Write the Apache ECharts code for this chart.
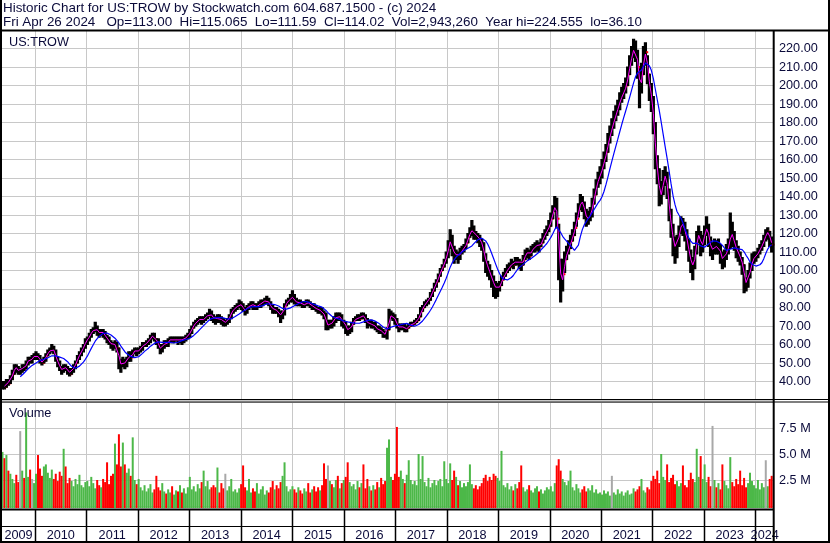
<!DOCTYPE html>
<html><head><meta charset="utf-8">
<script src="https://cdn.jsdelivr.net/npm/echarts@6/dist/echarts.min.js"></script>
<style>html,body{margin:0;padding:0;background:#fff}#c{width:830px;height:543px}</style>
</head><body><div id="c"></div>
<script>
// ---- data (bi-weekly bars), last bar 2024-04-26 ----
const lastDate = [2024, 3, 26];
const stepDays = 14;
const close = [
 38,37,40,39,42,44,48,47,45,46,48,47,50,52,51,53,54,
 54,53,51,50,52,54,56,57,58,56,52,50,47,46,48,47,46,44,46,48,50,53,55,57,59,62,
 63,65,67,68,69,67,66,67,66,64,63,61,60,59,61,58,50,49,51,49,52,54,53,56,57,56,
 57,58,60,60,61,62,64,65,63,62,59,57,59,61,60,62,63,62,63,63,62,63,62,63,64,65,
 67,69,71,72,73,74,73,74,75,76,77,75,74,73,75,74,73,72,72,73,75,78,79,80,81,82,
 81,79,78,80,81,82,81,80,81,82,82,83,84,84,82,80,79,79,78,77,75,77,81,83,84,85,
 86,84,82,83,82,81,82,83,82,81,81,80,79,78,79,77,76,71,70,72,71,73,76,75,75,72,
 72,69,67,68,71,73,74,75,74,76,75,73,71,72,70,71,69,68,68,67,66,65,68,75,76,75,
 73,70,69,69,70,68,69,70,71,71,72,73,75,78,80,82,83,84,87,89,92,94,97,100,102,105,
 108,113,118,112,108,109,107,110,111,112,115,118,121,122,120,119,118,116,114,108,104,101,98,95,92,90,
 90,92,95,97,99,101,102,104,103,106,105,104,103,106,109,110,108,111,112,113,114,113,115,118,120,122,
 124,128,132,136,128,105,92,98,106,110,112,116,119,123,128,133,138,136,132,127,129,130,136,141,146,150,
 152,156,160,164,170,174,178,182,185,189,192,195,197,200,206,212,217,221,218,210,197,206,216,218,206,198,
 192,178,160,152,140,142,150,152,142,130,122,114,112,115,121,126,124,120,115,108,104,102,110,118,120,112,
 116,121,124,116,112,111,114,112,113,108,105,107,111,113,121,118,114,111,109,106,103,95,92,97,101,106,
 107,108,110,112,114,117,120,121,116,114.02
];
const high = [
 40,40,41,41,43,46,49,49,48,47,49,49,51,53,53,54,55,
 56,55,54,52,53,55,57,58,60,59,57,53,51,48,49,49,48,47,47,49,51,54,56,58,60,63,
 64,66,68,69,72,70,68,68,68,67,65,64,62,61,62,61,58,52,53,52,53,56,56,57,58,58,
 58,59,61,61,62,63,65,66,66,63,63,60,60,62,62,63,64,64,64,64,64,64,64,64,65,66,
 68,70,72,73,74,75,75,75,76,77,79,78,76,75,76,76,75,74,73,74,76,79,80,81,82,84,
 83,82,80,81,82,83,83,82,82,83,84,84,85,86,85,83,81,80,80,79,78,78,82,84,85,87,
 89,87,85,84,84,83,83,84,84,83,82,82,81,80,80,80,78,77,73,73,73,75,77,77,77,76,
 73,72,70,70,72,74,75,76,76,77,77,76,74,73,73,72,72,70,70,69,68,67,69,79,78,77,
 76,74,71,71,71,71,70,71,72,72,73,74,76,80,81,83,84,85,88,90,93,95,98,101,103,106,
 110,116,122,119,113,111,110,112,113,114,117,120,123,127,124,121,120,119,117,115,109,105,103,100,97,94,
 93,94,97,99,101,103,104,106,105,107,107,106,105,108,111,112,111,113,114,115,116,115,117,120,122,124,
 127,131,135,140,139,125,106,106,110,113,116,119,122,126,131,136,141,140,137,133,132,134,139,144,149,153,
 156,160,164,168,174,178,182,186,189,192,196,199,201,204,210,216,221,225,224,219,209,212,221,223,216,206,
 201,194,180,162,155,148,154,156,153,144,133,125,118,119,124,129,128,126,122,117,111,107,113,121,124,121,
 119,124,129,125,118,115,117,116,117,114,110,111,114,117,131,126,121,116,113,110,107,103,96,100,104,109,
 110,110,112,114,116,119,122,123,121,118
];
const low = [
 36,36,37,38,39,41,44,45,44,44,45,46,47,49,50,50,52,
 52,52,50,49,50,51,54,55,56,55,51,48,46,44,45,46,44,43,44,45,47,50,52,54,56,58,
 60,62,64,66,67,65,64,65,64,63,61,60,58,57,58,56,47,45,48,47,48,51,51,53,55,54,
 55,56,57,59,59,60,61,63,62,60,58,55,56,58,59,59,61,61,61,62,60,61,60,61,62,63,
 64,66,69,70,71,72,71,72,73,74,75,73,72,71,72,72,71,70,70,71,72,74,77,78,79,80,
 79,78,76,77,79,80,79,79,79,80,80,81,82,82,81,79,77,77,77,75,72,74,76,81,82,83,
 83,82,81,81,81,80,80,81,81,80,79,79,78,77,77,76,74,68,68,69,69,70,72,73,73,70,
 69,66,65,66,67,71,73,73,73,74,74,72,69,70,69,69,68,67,66,66,64,64,63,68,74,73,
 71,69,67,68,68,67,67,69,70,70,71,72,73,75,78,80,81,82,84,86,89,91,94,97,100,102,
 104,107,112,108,104,106,104,106,109,110,112,115,118,119,117,117,115,113,111,105,99,97,95,91,86,85,
 86,89,92,95,97,99,100,102,101,103,103,101,100,103,106,107,106,108,110,110,111,110,113,115,117,119,
 121,124,128,132,123,95,83,89,99,106,109,112,116,119,124,129,133,132,128,124,125,127,129,136,141,145,
 147,150,155,159,164,169,173,177,181,184,187,191,193,196,200,206,211,215,213,204,188,196,206,211,201,192,
 186,174,155,147,135,136,141,146,139,127,118,108,104,107,113,120,119,116,111,105,99,95,101,109,115,108,
 110,114,119,113,108,106,109,109,109,104,101,102,106,109,112,113,111,107,105,103,98,88,89,91,96,100,
 104,105,107,109,111,113,116,117,113,110
];
const volumeM = [
 5.2,4.6,4.9,3.4,3.1,2.6,2.2,3.0,2.3,7.2,3.4,2.7,9.0,2.8,3.5,2.6,2.2,
 3.1,4.9,3.6,2.9,3.8,4.0,3.2,2.7,3.5,2.6,3.1,2.4,3.3,2.9,5.5,3.8,2.2,2.7,2.4,1.9,2.6,2.1,3.0,2.0,1.8,2.3,
 2.4,1.9,2.8,2.2,1.7,2.5,2.0,1.8,2.6,2.3,4.2,2.1,2.9,3.1,6.0,4.0,6.9,3.8,6.1,4.0,3.2,3.6,2.9,6.6,2.5,2.1,
 2.6,1.8,1.5,2.0,1.4,1.7,2.1,1.3,1.6,2.9,1.8,1.5,2.2,1.4,1.2,1.6,1.3,1.9,1.1,1.5,1.4,2.0,1.3,1.7,1.2,1.8,
 2.8,1.6,1.9,1.4,2.1,1.7,2.3,3.4,1.9,2.4,1.6,1.8,2.0,1.8,3.7,1.3,2.2,1.7,3.1,1.5,1.9,2.6,1.4,1.6,1.3,1.7,
 2.1,3.9,1.8,1.5,2.6,1.3,1.7,1.4,2.2,1.2,1.6,1.9,1.1,1.5,1.3,1.8,2.4,1.6,2.0,1.7,2.3,2.9,4.2,1.9,1.4,1.6,
 1.9,1.6,1.3,1.8,1.5,1.2,1.7,1.4,2.2,1.3,1.6,1.9,1.4,1.8,1.5,2.0,4.1,2.6,3.9,2.4,2.1,1.8,2.5,2.9,1.7,2.2,
 2.5,2.8,4.2,2.3,1.9,2.1,1.6,2.4,1.8,2.2,4.0,1.7,2.6,1.9,1.5,2.0,1.6,2.3,1.8,2.7,2.1,2.4,5.6,6.4,2.8,2.5,
 3.1,7.6,2.8,3.4,2.6,2.2,3.0,4.4,2.5,2.1,2.4,2.0,5.0,2.6,4.8,2.3,1.9,2.7,1.8,2.2,2.5,2.0,2.4,2.6,1.9,4.3,
 2.6,2.2,4.1,2.5,3.4,2.8,2.0,2.4,1.8,2.2,1.9,2.3,4.0,2.1,1.7,2.0,1.6,1.9,2.2,2.7,3.0,2.4,2.8,2.5,3.1,2.9,
 2.7,2.4,5.3,2.0,1.8,2.2,1.6,1.9,1.5,2.1,1.7,2.3,3.9,1.8,1.4,1.6,2.0,1.5,1.3,1.7,1.9,1.4,1.6,1.2,1.5,1.8,
 1.6,1.9,1.4,2.2,3.9,4.5,3.4,2.6,2.3,2.0,2.4,3.4,1.8,1.5,2.1,1.7,1.3,1.6,1.9,1.4,1.7,1.5,2.0,1.3,1.6,1.2,
 1.3,1.1,1.5,1.2,1.4,1.0,2.9,1.3,1.1,1.6,1.2,1.4,1.0,1.3,1.5,1.1,1.2,1.7,1.4,1.6,1.9,2.6,1.5,1.3,1.8,1.6,
 2.4,2.9,2.6,3.4,2.2,5.0,2.8,2.5,4.0,2.3,2.7,3.0,2.1,2.4,1.9,2.2,3.9,2.0,1.8,2.5,3.2,2.6,2.3,5.5,2.8,4.8,
 2.6,4.0,2.3,2.8,1.9,7.7,2.5,1.8,2.2,1.6,4.0,2.4,2.0,1.7,4.7,2.3,1.9,2.6,2.1,3.4,2.0,2.7,1.8,2.2,3.2,2.4,
 2.0,1.7,2.5,1.6,2.2,1.8,4.4,1.9,2.6,2.9
];
const grayBars = [9, 15, 113, 165, 309, 360, 387];
const yearLabels = ['2009','2010','2011','2012','2013','2014','2015','2016','2017','2018','2019','2020','2021','2022','2023','2024'];
const priceTickLabels = [40,50,60,70,80,90,100,110,120,130,140,150,160,170,180,190,200,210,220];
const volTickLabels = [2.5, 5.0, 7.5];
const maShort = 2, maLong = 10;
const header1 = 'Historic Chart for US:TROW by Stockwatch.com 604.687.1500 - (c) 2024';
const header2 = 'Fri Apr 26 2024   Op=113.00  Hi=115.065  Lo=111.59  Cl=114.02  Vol=2,943,260  Year hi=224.555  lo=36.10';

// ---- helpers ----
const XMIN = 2009.358, XMAX = 2024.362;
const FONT = 'Liberation Sans, Arial, sans-serif';
const TXT = '#0a0a3a';
const N = close.length;
const DAY = 86400000;
const lastMs = Date.UTC(lastDate[0], lastDate[1], lastDate[2]);
function yearFrac(ms) {
  const y = new Date(ms).getUTCFullYear();
  const s = Date.UTC(y, 0, 1), e = Date.UTC(y + 1, 0, 1);
  return y + (ms - s) / (e - s);
}
const xs = close.map((_, i) => yearFrac(lastMs - (N - 1 - i) * stepDays * DAY));
function sma(arr, n) {
  return arr.map((_, i) => {
    if (i < n - 1) return '-';
    let s = 0; for (let k = i - n + 1; k <= i; k++) s += arr[k];
    return s / n;
  });
}
const maS = sma(close, maShort), maL = sma(close, maLong);
const priceData = xs.map((x, i) => [x, high[i], low[i], close[i]]);
const volData = xs.map((x, i) => [x, volumeM[i],
  grayBars.includes(i) ? 2 : (i > 0 && close[i] < close[i - 1] ? 1 : 0)]);
const VCOL = ['#4cb848', '#ff0000', '#a8a8a8'];
const boundaries = yearLabels.slice(1).map(y => [+y, 0]);

const chart = echarts.init(document.getElementById('c'), null, {renderer: 'canvas'});

function yearLine(params, api) {
  const cs = params.coordSys;
  const x = Math.round(api.coord([api.value(0), 0])[0]) + 0.5;
  return {type: 'line', shape: {x1: x, y1: cs.y, x2: x, y2: cs.y + cs.height},
    style: {stroke: '#c8c8c8', lineWidth: 1}};
}
const xAxisBase = {type: 'value', min: XMIN, max: XMAX, show: false};
const frame = (x, y, w, h) => ({type: 'rect', z: 100, silent: true, shape: {x, y, width: w, height: h}, style: {fill: '#000'}});
const HFONT = '13.4px ' + FONT;

chart.setOption({
  animation: false,
  backgroundColor: '#fff',
  grid: [
    {left: 2, right: 56, top: 30, height: 370},
    {left: 2, right: 56, top: 402, height: 104},
    {left: 2, right: 56, top: 510, height: 32}
  ],
  xAxis: [
    Object.assign({gridIndex: 0}, xAxisBase),
    Object.assign({gridIndex: 1}, xAxisBase),
    Object.assign({gridIndex: 2}, xAxisBase)
  ],
  yAxis: [
    {gridIndex: 0, type: 'value', position: 'right', min: 30, max: 230, interval: 10,
     axisLine: {show: false}, axisTick: {show: false},
     splitLine: {lineStyle: {color: '#c8c8c8', width: 1}},
     axisLabel: {margin: 5, color: TXT, fontSize: 12.7, fontFamily: FONT,
       formatter: v => priceTickLabels.includes(v) ? v.toFixed(2) : ''}},
    {gridIndex: 1, type: 'value', position: 'right', min: 0, max: 10, interval: 2.5,
     axisLine: {show: false}, axisTick: {show: false},
     splitLine: {lineStyle: {color: '#c8c8c8', width: 1}},
     axisLabel: {margin: 5, color: TXT, fontSize: 12.7, fontFamily: FONT,
       formatter: v => volTickLabels.includes(v) ? v.toFixed(1) + ' M' : ''}},
    {gridIndex: 2, type: 'value', min: 0, max: 1, show: false}
  ],
  series: [
    {type: 'custom', xAxisIndex: 0, yAxisIndex: 0, z: 1, silent: true, data: boundaries, renderItem: yearLine},
    {type: 'custom', xAxisIndex: 1, yAxisIndex: 1, z: 1, silent: true, data: boundaries, renderItem: yearLine},
    {type: 'custom', name: 'price', xAxisIndex: 0, yAxisIndex: 0, z: 3, silent: true,
     data: priceData, encode: {x: 0, y: [1, 2, 3]},
     renderItem: (params, api) => {
       const x = api.value(0);
       const ph = api.coord([x, api.value(1)]), pl = api.coord([x, api.value(2)]), pc = api.coord([x, api.value(3)]);
       return {type: 'group', children: [
         {type: 'rect', shape: {x: ph[0] - 1, y: ph[1], width: 2, height: pl[1] - ph[1]},
          style: {fill: '#000', stroke: '#000', lineWidth: 1.2}},
         {type: 'rect', shape: {x: pc[0] + 0.8, y: pc[1] - 1, width: 2, height: 2}, style: {fill: '#ff0000'}}
       ]};
     }},
    {type: 'line', name: 'ma short', xAxisIndex: 0, yAxisIndex: 0, z: 5, silent: true, symbol: 'none',
     data: xs.map((x, i) => [x, maS[i]]), lineStyle: {color: '#ff00ff', width: 1}},
    {type: 'line', name: 'ma long', xAxisIndex: 0, yAxisIndex: 0, z: 6, silent: true, symbol: 'none',
     data: xs.map((x, i) => [x, maL[i]]), lineStyle: {color: '#0000ff', width: 1.2}},
    {type: 'custom', name: 'volume', xAxisIndex: 1, yAxisIndex: 1, z: 3, silent: true,
     data: volData, encode: {x: 0, y: 1},
     renderItem: (params, api) => {
       const cs = params.coordSys;
       const p = api.coord([api.value(0), api.value(1)]);
       const base = cs.y + cs.height + 2;
       return {type: 'rect', shape: {x: p[0] - 1, y: p[1], width: 2, height: base - p[1]},
         style: {fill: VCOL[api.value(2)]}};
     }},
    {type: 'custom', name: 'years', xAxisIndex: 2, yAxisIndex: 2, z: 4, silent: true,
     data: yearLabels.map(y => [+y, 0]),
     renderItem: (params, api) => {
       const cs = params.coordSys;
       const yr = api.value(0);
       const xa = api.coord([Math.max(yr, XMIN), 0])[0];
       const xb = api.coord([Math.min(yr + 1, XMAX), 0])[0];
       const children = [];
       if (yr > XMIN) {
         const xl = Math.round(xa) + 0.5;
         children.push({type: 'line', shape: {x1: xl, y1: cs.y, x2: xl, y2: cs.y + cs.height}, style: {stroke: '#000', lineWidth: 1.5}});
       }
       children.push({type: 'text', style: {text: String(yr), x: (xa + xb) / 2, y: cs.y + 25,
         align: 'center', verticalAlign: 'middle', fill: TXT, font: '12.7px ' + FONT}});
       return {type: 'group', children};
     }}
  ],
  graphic: [
    {type: 'text', z: 100, silent: true, style: {text: header1, x: 3, y: 8.5, verticalAlign: 'middle', fill: TXT, font: HFONT}},
    {type: 'text', z: 100, silent: true, style: {text: header2, x: 3, y: 22, verticalAlign: 'middle', fill: TXT, font: HFONT}},
    {type: 'text', z: 100, silent: true, style: {text: 'US:TROW', x: 9, y: 42, verticalAlign: 'middle', fill: TXT, font: '12.7px ' + FONT}},
    {type: 'text', z: 100, silent: true, style: {text: 'Volume', x: 9, y: 413, verticalAlign: 'middle', fill: TXT, font: '12.7px ' + FONT}},
    frame(0, 0, 2, 543),
    frame(828, 0, 2, 543),
    frame(0, 29.5, 830, 2),
    frame(772.7, 30, 2, 513),
    frame(0, 399, 830, 1),
    frame(0, 401.5, 830, 1),
    frame(0, 508.5, 774, 2),
    frame(0, 526, 774, 1),
    frame(0, 541, 830, 2)
  ]
});
</script></body></html>
